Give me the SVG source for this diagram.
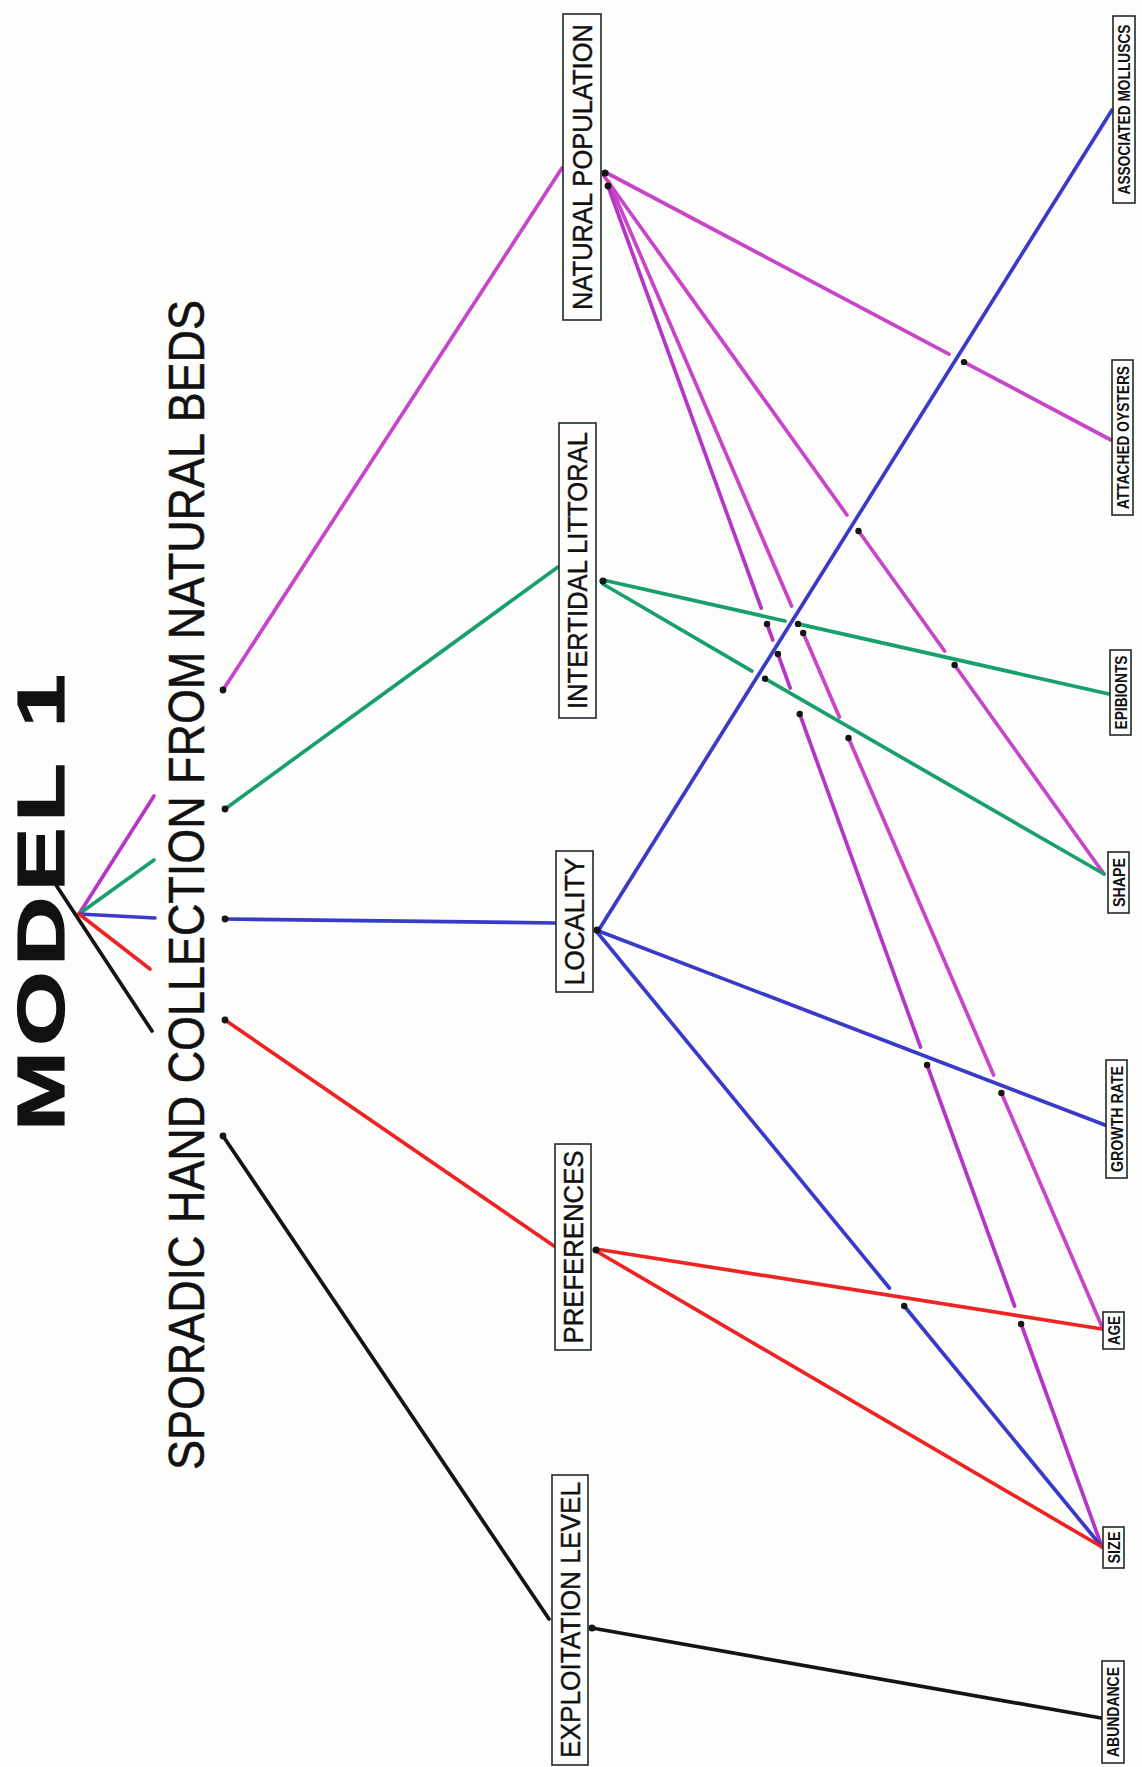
<svg xmlns="http://www.w3.org/2000/svg" width="1142" height="1767" viewBox="0 0 1142 1767">
<style>
.bg{fill:#fdfdfc}
.box{fill:#fdfdfc;stroke:#1e2a22;stroke-width:1.6}
.lt{font-family:"Liberation Sans",Arial,sans-serif;font-size:27px;fill:#111;text-anchor:middle;stroke:#111;stroke-width:0.4}
.rt{font-family:"Liberation Sans",Arial,sans-serif;font-size:16px;font-weight:bold;fill:#111;text-anchor:middle}
.ln{stroke-width:3.7;stroke-linecap:round;fill:none}
.m{stroke:#c844c8}
.p{stroke:#b536c6}
.g{stroke:#17a06e}
.b{stroke:#3a3ac8}
.r{stroke:#ee2424}
.k{stroke:#141414}
.dot{fill:#151515}
</style>
<rect class="bg" x="0" y="0" width="1142" height="1767"/>
<g id="title">
<text font-family="'Liberation Sans',Arial,sans-serif" font-weight="bold" font-size="66" fill="#111" stroke="#111" stroke-width="1.2" transform="translate(64,1131) rotate(-90) scale(1.45,1)" textLength="315" lengthAdjust="spacing">MODEL 1</text>
<text font-family="'Liberation Sans',Arial,sans-serif" font-size="50" fill="#111" stroke="#111" stroke-width="0.5" transform="translate(204,1470) rotate(-90)" textLength="1170" lengthAdjust="spacingAndGlyphs">SPORADIC HAND COLLECTION FROM NATURAL BEDS</text>
</g>
<g id="connectors">
<line class="ln p" x1="79" y1="914" x2="154" y2="796"/>
<line class="ln g" x1="79" y1="914" x2="154" y2="860"/>
<line class="ln b" x1="79" y1="914" x2="155" y2="918"/>
<line class="ln r" x1="79" y1="914" x2="150" y2="969"/>
<line class="ln k" x1="56" y1="885" x2="152" y2="1031"/>
<line class="ln m" x1="223" y1="690" x2="562" y2="168"/>
<line class="ln g" x1="225" y1="809" x2="558" y2="567"/>
<line class="ln b" x1="225" y1="919" x2="555" y2="923"/>
<line class="ln r" x1="225" y1="1020" x2="554" y2="1246"/>
<line class="ln k" x1="223" y1="1136" x2="549" y2="1619"/>
<line class="ln m" x1="605" y1="172" x2="949" y2="354.2"/>
<line class="ln m" x1="964" y1="362.1" x2="1111" y2="440"/>
<line class="ln m" x1="604" y1="176" x2="847" y2="515"/>
<line class="ln m" x1="858.5" y1="531" x2="944.6" y2="651"/>
<line class="ln m" x1="954.6" y1="665" x2="1104" y2="874"/>
<line class="ln m" x1="609" y1="182" x2="791.6" y2="606"/>
<line class="ln m" x1="803.2" y1="633" x2="839.4" y2="717"/>
<line class="ln m" x1="848.5" y1="738" x2="993.6" y2="1075"/>
<line class="ln m" x1="1001.4" y1="1093" x2="1103" y2="1329"/>
<line class="ln p" x1="608" y1="186" x2="761.2" y2="608"/>
<line class="ln p" x1="767" y1="624" x2="772.8" y2="640"/>
<line class="ln p" x1="777.9" y1="654" x2="790.2" y2="688"/>
<line class="ln p" x1="799.7" y1="714" x2="920.5" y2="1047"/>
<line class="ln p" x1="927.1" y1="1065" x2="1014.6" y2="1306"/>
<line class="ln p" x1="1021.1" y1="1324" x2="1102" y2="1547"/>
<line class="ln g" x1="603" y1="580" x2="785" y2="621"/>
<line class="ln g" x1="798" y1="623.9" x2="1109" y2="694"/>
<line class="ln g" x1="603" y1="584" x2="752" y2="671.1"/>
<line class="ln g" x1="765" y1="678.7" x2="1104" y2="874"/>
<line class="ln b" x1="600" y1="928" x2="1112" y2="110"/>
<line class="ln b" x1="596" y1="930" x2="1105" y2="1125"/>
<line class="ln b" x1="597" y1="932" x2="889.4" y2="1288"/>
<line class="ln b" x1="904.2" y1="1306" x2="1102" y2="1547"/>
<line class="ln r" x1="596" y1="1249" x2="1102" y2="1329"/>
<line class="ln r" x1="596" y1="1251" x2="1102" y2="1547"/>
<line class="ln k" x1="592" y1="1628" x2="1101" y2="1718"/>
<g id="pen-dots">
<circle class="dot" cx="223" cy="690" r="3.4"/>
<circle class="dot" cx="225" cy="809" r="3.4"/>
<circle class="dot" cx="225" cy="919" r="3.4"/>
<circle class="dot" cx="225" cy="1020" r="3.4"/>
<circle class="dot" cx="223" cy="1136" r="3.4"/>
<circle class="dot" cx="605" cy="173" r="3.6"/>
<circle class="dot" cx="608" cy="186" r="3.4"/>
<circle class="dot" cx="964" cy="362.1" r="3.2"/>
<circle class="dot" cx="858.5" cy="531" r="3.2"/>
<circle class="dot" cx="954.6" cy="665" r="3.2"/>
<circle class="dot" cx="803.2" cy="633" r="3.2"/>
<circle class="dot" cx="848.5" cy="738" r="3.2"/>
<circle class="dot" cx="1001.4" cy="1093" r="3.2"/>
<circle class="dot" cx="767" cy="624" r="3.2"/>
<circle class="dot" cx="777.9" cy="654" r="3.2"/>
<circle class="dot" cx="799.7" cy="714" r="3.2"/>
<circle class="dot" cx="927.1" cy="1065" r="3.2"/>
<circle class="dot" cx="1021.1" cy="1324" r="3.2"/>
<circle class="dot" cx="603" cy="581" r="3.6"/>
<circle class="dot" cx="798" cy="623.9" r="3.2"/>
<circle class="dot" cx="765" cy="678.7" r="3.2"/>
<circle class="dot" cx="597" cy="930" r="3.6"/>
<circle class="dot" cx="904.2" cy="1306" r="3.2"/>
<circle class="dot" cx="596" cy="1250" r="3.6"/>
<circle class="dot" cx="592" cy="1628" r="3.6"/>
</g>
</g>
<g id="natural-population"><rect class="box" x="563" y="14" width="38" height="306"/><text class="lt" transform="translate(591.5,167) rotate(-90)" textLength="286" lengthAdjust="spacingAndGlyphs">NATURAL POPULATION</text></g>
<g id="intertidal-littoral"><rect class="box" x="559" y="423" width="37" height="295"/><text class="lt" transform="translate(587,570.5) rotate(-90)" textLength="277" lengthAdjust="spacingAndGlyphs">INTERTIDAL LITTORAL</text></g>
<g id="locality"><rect class="box" x="556" y="851" width="37" height="141"/><text class="lt" transform="translate(584,921.5) rotate(-90)" textLength="128" lengthAdjust="spacingAndGlyphs">LOCALITY</text></g>
<g id="preferences"><rect class="box" x="555" y="1144" width="36" height="206"/><text class="lt" transform="translate(582.5,1247) rotate(-90)" textLength="193" lengthAdjust="spacingAndGlyphs">PREFERENCES</text></g>
<g id="exploitation-level"><rect class="box" x="552" y="1475" width="36" height="290"/><text class="lt" transform="translate(579.5,1620) rotate(-90)" textLength="276" lengthAdjust="spacingAndGlyphs">EXPLOITATION LEVEL</text></g>
<g id="associated-molluscs"><rect class="box" x="1113" y="16" width="22" height="187"/><text class="rt" transform="translate(1130,109.5) rotate(-90)" textLength="170" lengthAdjust="spacingAndGlyphs">ASSOCIATED MOLLUSCS</text></g>
<g id="attached-oysters"><rect class="box" x="1112" y="360" width="21" height="155"/><text class="rt" transform="translate(1128.5,437.5) rotate(-90)" textLength="143" lengthAdjust="spacingAndGlyphs">ATTACHED OYSTERS</text></g>
<g id="epibionts"><rect class="box" x="1110" y="650" width="21" height="85"/><text class="rt" transform="translate(1126.5,692.5) rotate(-90)" textLength="74" lengthAdjust="spacingAndGlyphs">EPIBIONTS</text></g>
<g id="shape"><rect class="box" x="1108" y="852" width="21" height="61"/><text class="rt" transform="translate(1124.5,882.5) rotate(-90)" textLength="49" lengthAdjust="spacingAndGlyphs">SHAPE</text></g>
<g id="growth-rate"><rect class="box" x="1106" y="1060" width="21" height="118"/><text class="rt" transform="translate(1122.5,1119) rotate(-90)" textLength="106" lengthAdjust="spacingAndGlyphs">GROWTH RATE</text></g>
<g id="age"><rect class="box" x="1103" y="1312" width="21" height="37"/><text class="rt" transform="translate(1119.5,1330.5) rotate(-90)" textLength="29" lengthAdjust="spacingAndGlyphs">AGE</text></g>
<g id="size"><rect class="box" x="1103" y="1527" width="21" height="41"/><text class="rt" transform="translate(1119.5,1547.5) rotate(-90)" textLength="32" lengthAdjust="spacingAndGlyphs">SIZE</text></g>
<g id="abundance"><rect class="box" x="1102" y="1661" width="22" height="102"/><text class="rt" transform="translate(1119,1712) rotate(-90)" textLength="90" lengthAdjust="spacingAndGlyphs">ABUNDANCE</text></g>
</svg>
